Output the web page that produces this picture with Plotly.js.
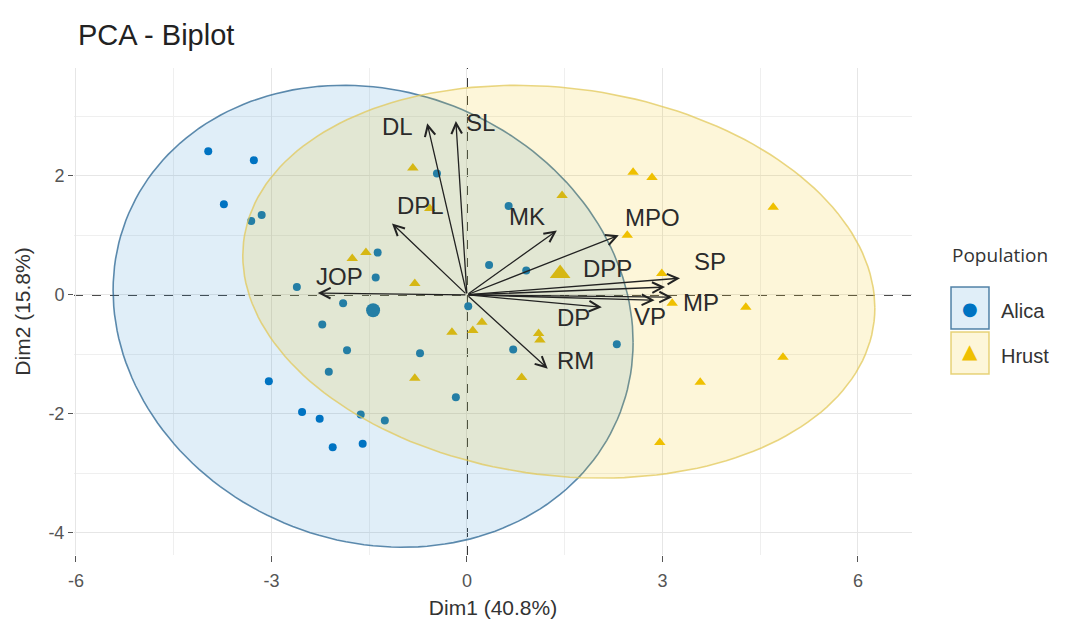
<!DOCTYPE html>
<html>
<head>
<meta charset="utf-8">
<script src="https://cdn.plot.ly/plotly-3.0.1.min.js"></script>
<style>html,body{margin:0;padding:0;background:#fff;}#chart{width:1081px;height:629px;}</style>
</head>
<body>
<div id="chart"></div>
<script>
// ---- Data ----
const alicaX = [-3.97,-3.27,-3.73,-3.31,-3.15,-1.37,-1.40,-2.61,-1.90,-2.22,-1.84,-2.12,-3.04,-2.53,-2.26,-1.63,-1.26,-2.06,-1.60,-0.46,0.64,0.34,0.91,0.02,-0.72,0.71,2.30,-0.17];
const alicaY = [2.41,2.26,1.52,1.24,1.34,0.71,0.29,0.13,-0.14,-0.50,-0.93,-1.29,-1.45,-1.97,-2.08,-2.01,-2.11,-2.56,-2.50,2.04,1.49,0.50,0.41,-0.19,-0.98,-0.92,-0.83,-1.72];
const hrustX = [-1.55,-1.76,-0.83,-0.57,-0.80,1.46,2.55,2.84,2.46,2.99,3.15,-0.23,0.09,0.23,1.10,1.12,-0.80,0.84,2.96,4.70,4.28,4.85,3.58];
const hrustY = [0.71,0.61,2.13,1.45,0.19,1.67,2.06,1.97,1.00,0.36,-0.14,-0.63,-0.60,-0.46,-0.65,-0.76,-1.40,-1.39,-2.48,1.47,-0.21,-1.05,-1.47];
const groupNames = ['Alica','Hrust'];
const meanX = [-1.44, 1.43];
const meanY = [-0.26, 0.36];
// ellipse parameters: centre, half-extent in x, half-extent in y, correlation
const ellCX = [-1.44, 1.41];
const ellCY = [-0.36, 0.22];
const ellHW = [3.99, 4.85];
const ellHH = [3.88, 3.30];
const ellR  = [-0.113, -0.133];
// variable arrows
const varNames = ['DL','SL','DPL','MK','MPO','JOP','DPP','SP','MP','VP','DP','RM'];
const varX = [-0.61,-0.17,-1.15,1.38,2.33,-2.29,3.04,3.27,3.15,2.88,2.07,1.24];
const varY = [2.88,2.92,1.20,1.08,1.00,0.03,0.13,0.28,-0.04,-0.09,-0.21,-1.24];
const labelX = [-1.06,0.21,-0.72,0.92,2.84,-1.95,2.15,3.73,3.59,2.81,1.63,1.66];
const labelY = [2.82,2.90,1.50,1.32,1.30,0.31,0.45,0.56,-0.13,-0.36,-0.38,-1.10];
const xTicks = [-6,-3,0,3,6];
const yTicks = [-4,-2,0,2];

// ---- Styles ----
const BLUE = '#0073C2', YELLOW = '#EFC000';
const FONT = 'Liberation Sans, Arial, sans-serif';

function ellipse(i){
  const xs=[], ys=[];
  const s = Math.sqrt(1-ellR[i]*ellR[i]);
  for(let k=0;k<=180;k++){
    const t = 2*Math.PI*k/180;
    xs.push(ellCX[i] + ellHW[i]*Math.cos(t));
    ys.push(ellCY[i] + ellHH[i]*(ellR[i]*Math.cos(t) + s*Math.sin(t)));
  }
  return {xs, ys};
}

const traces = [];
traces.push({x: alicaX, y: alicaY, type:'scatter', mode:'markers', name:'Alica', showlegend:false,
  marker:{symbol:'circle', size:8, color:BLUE}});
traces.push({x: hrustX, y: hrustY, type:'scatter', mode:'markers', name:'Hrust', showlegend:false,
  marker:{symbol:'triangle-up', size:10, color:YELLOW}});
traces.push({x:[meanX[0]], y:[meanY[0]], type:'scatter', mode:'markers', showlegend:false,
  marker:{symbol:'circle', size:14, color:BLUE}});
traces.push({x:[meanX[1]], y:[meanY[1]], type:'scatter', mode:'markers', showlegend:false,
  marker:{symbol:'triangle-up', size:18, color:YELLOW}});
const ellFill = ['rgba(0,115,194,0.12)','rgba(239,192,0,0.15)'];
const ellLine = ['rgba(40,100,145,0.75)','rgba(225,200,90,0.75)'];
for(let i=0;i<2;i++){
  const e = ellipse(i);
  traces.push({x:e.xs, y:e.ys, type:'scatter', mode:'lines', fill:'toself', fillcolor:ellFill[i],
    line:{color:ellLine[i], width:1.6}, showlegend:false, hoverinfo:'skip'});
}

const annotations = [];
for(let i=0;i<varNames.length;i++){
  annotations.push({x:varX[i], y:varY[i], ax:0, ay:0, xref:'x', yref:'y', axref:'x', ayref:'y',
    text:'', showarrow:true, arrowhead:5, arrowsize:1.6, arrowwidth:1.3, arrowcolor:'#222'});
  annotations.push({x:labelX[i], y:labelY[i], xref:'x', yref:'y', text:varNames[i], showarrow:false,
    font:{family:FONT, size:24, color:'#2b2b2b'}});
}

// manual legend (paper coords)
const px = p => (p-74)/838;
const py = p => (555-p)/487;
annotations.push({xref:'paper', yref:'paper', x:px(950), y:py(255), xanchor:'left', yanchor:'middle',
  text:'Population', showarrow:false, font:{family:'Open Sans, sans-serif', size:19, color:'#333'}});
annotations.push({xref:'paper', yref:'paper', x:px(970), y:py(308), xanchor:'center', yanchor:'middle',
  text:'●', showarrow:false, font:{family:'DejaVu Sans', size:18, color:BLUE}});
annotations.push({xref:'paper', yref:'paper', x:px(970), y:py(351), xanchor:'center', yanchor:'middle',
  text:'▲', showarrow:false, font:{family:'DejaVu Sans', size:20, color:YELLOW}});
annotations.push({xref:'paper', yref:'paper', x:px(999), y:py(311), xanchor:'left', yanchor:'middle',
  text:groupNames[0], showarrow:false, font:{family:FONT, size:20, color:'#333'}});
annotations.push({xref:'paper', yref:'paper', x:px(999), y:py(356), xanchor:'left', yanchor:'middle',
  text:groupNames[1], showarrow:false, font:{family:FONT, size:20, color:'#333'}});

const shapes = [
  {type:'line', xref:'paper', x0:0, x1:1, yref:'y', y0:0, y1:0, layer:'below', line:{color:'#111', width:1.8, dash:'dash'}},
  {type:'line', yref:'paper', y0:0, y1:1, xref:'x', x0:0, x1:0, layer:'below', line:{color:'#111', width:1.8, dash:'dash'}},
  {type:'rect', xref:'paper', yref:'paper', x0:px(951), x1:px(989), y0:py(329), y1:py(287),
    fillcolor:'rgba(0,115,194,0.12)', line:{color:'rgba(40,100,145,0.8)', width:1.5}},
  {type:'rect', xref:'paper', yref:'paper', x0:px(951), x1:px(989), y0:py(374), y1:py(332),
    fillcolor:'rgba(239,192,0,0.15)', line:{color:'rgba(225,200,90,0.8)', width:1.5}}
];

const layout = {
  width:1081, height:629,
  margin:{l:74, r:169, t:68, b:74},
  paper_bgcolor:'#fff', plot_bgcolor:'#fff',
  title:{text:'PCA - Biplot', x:78/1081, xref:'container', xanchor:'left', y:1-35/629, yref:'container', yanchor:'middle',
    font:{family:FONT, size:29, color:'#222'}},
  xaxis:{range:[-6.03, 6.83], tickvals:xTicks, ticktext:xTicks.map(String), showgrid:true, gridcolor:'#e6e6e6', gridwidth:1,
    minor:{dtick:1.5, tick0:0, showgrid:true, gridcolor:'#efefef', gridwidth:1, ticks:''},
    zeroline:false, showline:false, ticks:'outside', ticklen:6, tickcolor:'#555', tickwidth:1,
    ticklabelstandoff:3,
    tickfont:{family:FONT, size:18, color:'#555'},
    title:{text:'Dim1 (40.8%)', font:{family:FONT, size:21, color:'#333'}, standoff:10}},
  yaxis:{range:[-4.37, 3.81], tickvals:yTicks, ticktext:yTicks.map(String), showgrid:true, gridcolor:'#e6e6e6', gridwidth:1,
    minor:{dtick:1, tick0:0, showgrid:true, gridcolor:'#efefef', gridwidth:1, ticks:''},
    zeroline:false, showline:false, ticks:'outside', ticklen:5, tickcolor:'#555', tickwidth:1,
    tickfont:{family:FONT, size:18, color:'#555'},
    title:{text:'Dim2 (15.8%)', font:{family:FONT, size:21, color:'#333'}, standoff:12}},
  showlegend:false,
  annotations, shapes
};

Plotly.newPlot('chart', traces, layout, {displayModeBar:false, staticPlot:true});
</script>
</body>
</html>
